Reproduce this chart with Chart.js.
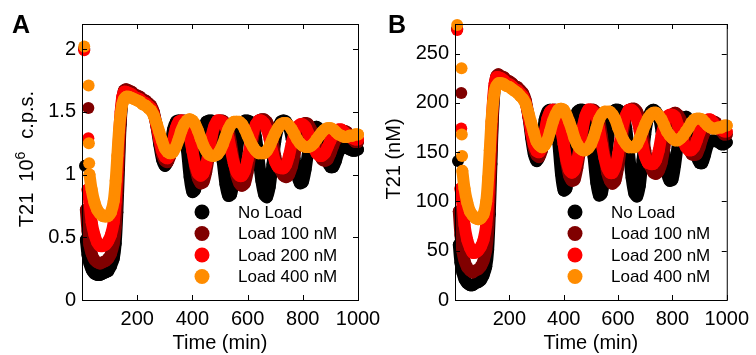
<!DOCTYPE html>
<html>
<head>
<meta charset="utf-8">
<script src="https://cdn.jsdelivr.net/npm/chart.js@4.4.1/dist/chart.umd.min.js"></script>
<style>
  html, body { margin: 0; padding: 0; background: #fff; }
  #wrap { position: relative; width: 756px; height: 355px; overflow: hidden; }
  #chartA { position: absolute; left: 0; top: 0; width: 400px; height: 355px; }
  #chartB { position: absolute; left: 378px; top: 0; width: 378px; height: 355px; }
</style>
</head>
<body>
<div id="wrap">
  <canvas id="chartA" width="400" height="355"></canvas>
  <canvas id="chartB" width="378" height="355"></canvas>
</div>
<script>
const seriesNames = ['No Load', 'Load 100 nM', 'Load 200 nM', 'Load 400 nM'];
const seriesColors = ['#000000', '#800000', '#ff0000', '#ff8c00'];

// first few isolated samples (drawn as dots only)
const onsetTime = [8, 11, 23, 24, 25, 26];
// main trace time points (min)
const time = [14, 20, 27, 35, 45, 55, 65, 75, 85, 95, 105, 115, 122, 128, 134, 140, 146, 152, 160,
  170, 180, 190, 200, 210, 220, 230, 240, 250, 260, 270, 280, 290, 300, 310, 320, 330, 340, 350, 360,
  370, 380, 390, 400, 410, 420, 430, 440, 450, 460, 470, 480, 490, 500, 510, 520, 530, 540, 550, 560,
  570, 580, 590, 600, 610, 620, 630, 640, 650, 660, 670, 680, 690, 700, 710, 720, 730, 740, 750, 760,
  770, 780, 790, 800, 810, 820, 830, 840, 850, 860, 870, 880, 890, 900, 910, 920, 930, 940, 950, 960,
  970, 980, 990, 1000];

// Panel A: T21 (10^6 c.p.s.)
const onsetCpsNoLoad = [2.00, 1.07, null, null, null, null];
const onsetCps100 = [2.00, null, 1.53, null, null, null];
const onsetCps200 = [1.99, null, 1.29, null, null, null];
const onsetCps400 = [2.02, null, null, 1.71, 1.25, 1.09];

const cpsNoLoad = [0.48, 0.36, 0.29, 0.24, 0.21, 0.20, 0.20, 0.21, 0.22, 0.23, 0.27, 0.33, 0.45, 0.70, 1.05, 1.40, 1.58, 1.65, 1.67,
  1.66, 1.65, 1.63, 1.62, 1.61, 1.59, 1.58, 1.56, 1.54, 1.49,
  1.38, 1.24, 1.12, 1.07, 1.10, 1.22, 1.36, 1.42, 1.43, 1.42,
  1.36, 1.20, 0.98, 0.86, 0.88, 1.02, 1.22, 1.36, 1.42, 1.43,
  1.43, 1.42, 1.38, 1.28, 1.10, 0.92, 0.83, 0.84, 0.96, 1.16,
  1.32, 1.40, 1.43, 1.43, 1.42, 1.39, 1.30, 1.13, 0.95, 0.84,
  0.82, 0.90, 1.08, 1.26, 1.37, 1.42, 1.43, 1.42, 1.38, 1.28,
  1.13, 0.99, 0.93, 0.94, 1.04, 1.19, 1.31, 1.37, 1.38, 1.36,
  1.30, 1.20, 1.10, 1.06, 1.06, 1.11, 1.18, 1.21, 1.22, 1.21,
  1.20, 1.19, 1.19, 1.20];
const cps100 = [0.72, 0.55, 0.44, 0.37, 0.32, 0.30, 0.29, 0.30, 0.31, 0.33, 0.37, 0.45, 0.58, 0.85, 1.15, 1.43, 1.60, 1.67, 1.68,
  1.67, 1.66, 1.64, 1.63, 1.62, 1.60, 1.59, 1.57, 1.55, 1.50,
  1.40, 1.27, 1.16, 1.11, 1.10, 1.15, 1.26, 1.37, 1.42, 1.43,
  1.43, 1.40, 1.32, 1.19, 1.06, 0.97, 0.93, 0.94, 1.02, 1.15,
  1.29, 1.38, 1.42, 1.43, 1.43, 1.41, 1.36, 1.25, 1.11, 0.99,
  0.93, 0.91, 0.93, 1.02, 1.16, 1.30, 1.39, 1.43, 1.44, 1.44,
  1.42, 1.37, 1.27, 1.15, 1.06, 1.03, 0.99, 0.98, 1.00, 1.06,
  1.16, 1.27, 1.35, 1.40, 1.41, 1.40, 1.36, 1.30, 1.22, 1.16,
  1.12, 1.11, 1.12, 1.17, 1.23, 1.28, 1.32, 1.34, 1.35, 1.34,
  1.31, 1.28, 1.26, 1.26];
const cps200 = [null, 0.88, 0.78, 0.62, 0.52, 0.46, 0.43, 0.43, 0.44, 0.47, 0.52, 0.62, 0.78, 1.02, 1.30, 1.50, 1.62, 1.66, 1.66,
  1.65, 1.64, 1.62, 1.61, 1.60, 1.58, 1.57, 1.55, 1.53, 1.48,
  1.39, 1.28, 1.19, 1.14, 1.13, 1.17, 1.27, 1.37, 1.42, 1.43,
  1.42, 1.38, 1.30, 1.19, 1.08, 1.01, 0.99, 1.01, 1.08, 1.19,
  1.31, 1.39, 1.43, 1.43, 1.42, 1.38, 1.30, 1.19, 1.09, 1.02,
  0.99, 0.99, 1.03, 1.12, 1.24, 1.34, 1.40, 1.43, 1.43, 1.41,
  1.36, 1.28, 1.18, 1.10, 1.06, 1.05, 1.05, 1.08, 1.15, 1.25,
  1.33, 1.38, 1.40, 1.40, 1.38, 1.33, 1.27, 1.21, 1.17, 1.15,
  1.15, 1.17, 1.22, 1.27, 1.32, 1.35, 1.36, 1.36, 1.34, 1.32,
  1.30, 1.29, 1.28, 1.28];
const cps400 = [null, null, 1.00, 0.88, 0.78, 0.72, 0.69, 0.67, 0.665, 0.67, 0.70, 0.79, 0.95, 1.15, 1.35, 1.48, 1.56, 1.60, 1.62,
  1.62, 1.61, 1.60, 1.59, 1.58, 1.56, 1.55, 1.53, 1.51, 1.47,
  1.41, 1.34, 1.27, 1.21, 1.18, 1.17, 1.18, 1.22, 1.28, 1.35,
  1.40, 1.43, 1.44, 1.43, 1.40, 1.35, 1.29, 1.23, 1.19, 1.16,
  1.15, 1.15, 1.16, 1.19, 1.24, 1.30, 1.36, 1.40, 1.42, 1.42,
  1.42, 1.40, 1.36, 1.31, 1.26, 1.22, 1.19, 1.17, 1.17, 1.17,
  1.19, 1.23, 1.28, 1.33, 1.37, 1.40, 1.41, 1.41, 1.39, 1.36,
  1.32, 1.28, 1.25, 1.23, 1.22, 1.22, 1.23, 1.25, 1.28, 1.31,
  1.34, 1.36, 1.37, 1.37, 1.36, 1.34, 1.32, 1.31, 1.30, 1.30,
  1.31, 1.31, 1.32, 1.32];

// Panel B: T21 (nM)
const onsetNmNoLoad = [275, 141, null, null, null, null];
const onsetNm100 = [275, null, 210, null, null, null];
const onsetNm200 = [274, null, 174, null, null, null];
const onsetNm400 = [279, null, null, 235, 168, 146];

const nmNoLoad = [56, 38, 28, 21, 17, 15, 15, 17, 18, 20, 25, 34, 51, 87, 138, 188, 214, 225, 227,
  226, 225, 222, 220, 219, 216, 214, 212, 209, 201,
  186, 165, 148, 141, 145, 162, 183, 191, 193, 191,
  183, 160, 128, 111, 113, 134, 162, 183, 191, 193,
  193, 191, 186, 171, 145, 119, 106, 108, 125, 154,
  177, 188, 193, 193, 191, 187, 174, 150, 124, 108,
  105, 116, 142, 168, 184, 191, 193, 191, 186, 171,
  150, 129, 121, 122, 137, 158, 175, 184, 186, 183,
  174, 160, 145, 139, 139, 147, 157, 161, 162, 161,
  160, 158, 158, 160];
const nm100 = [90, 66, 50, 40, 33, 30, 28, 30, 31, 34, 40, 51, 70, 109, 152, 193, 217, 227, 229,
  227, 226, 223, 222, 220, 217, 216, 213, 210, 203,
  188, 170, 154, 147, 145, 152, 168, 184, 191, 193,
  193, 188, 177, 158, 139, 126, 121, 122, 134, 152,
  173, 186, 191, 193, 193, 190, 183, 167, 147, 129,
  121, 118, 121, 134, 154, 174, 187, 193, 194, 194,
  191, 184, 170, 152, 139, 135, 129, 128, 131, 139,
  154, 170, 181, 188, 190, 188, 183, 174, 162, 154,
  148, 147, 148, 155, 164, 171, 177, 180, 181, 180,
  175, 171, 168, 168];
const nm200 = [null, 113, 99, 76, 61, 53, 48, 48, 50, 54, 61, 76, 99, 134, 174, 203, 220, 226, 226,
  225, 223, 220, 219, 217, 214, 213, 210, 207, 200,
  187, 171, 158, 151, 150, 155, 170, 184, 191, 193,
  191, 186, 174, 158, 142, 132, 129, 132, 142, 158,
  175, 187, 193, 193, 191, 186, 174, 158, 144, 134,
  129, 129, 135, 148, 165, 180, 188, 193, 193, 190,
  183, 171, 157, 145, 139, 138, 138, 142, 152, 167,
  178, 186, 188, 188, 186, 178, 170, 161, 155, 152,
  152, 155, 162, 170, 177, 181, 183, 183, 180, 177,
  174, 173, 171, 171];
const nm400 = [null, null, 131, 113, 99, 90, 86, 83, 82, 83, 87, 100, 124, 152, 181, 200, 212, 217, 220,
  220, 219, 217, 216, 214, 212, 210, 207, 204, 199,
  190, 180, 170, 161, 157, 155, 157, 162, 171, 181,
  188, 193, 194, 193, 188, 181, 173, 164, 158, 154,
  152, 152, 154, 158, 165, 174, 183, 188, 191, 191,
  191, 188, 183, 175, 168, 162, 158, 155, 155, 155,
  158, 164, 171, 178, 184, 188, 190, 190, 187, 183,
  177, 171, 167, 164, 162, 162, 164, 167, 171, 175,
  180, 183, 184, 184, 183, 180, 177, 175, 174, 174,
  175, 175, 177, 177];

const xTicks = [0, 200, 400, 600, 800, 1000];
const cpsTicks = [0, 0.5, 1, 1.5, 2];
const nmTicks = [0, 50, 100, 150, 200, 250];

Chart.defaults.font.family = "'Liberation Sans', Arial, sans-serif";
Chart.defaults.color = '#000';

function buildDatasets(onsets, traces) {
  return traces.map((vals, i) => {
    const pts = onsetTime.map((t, k) => ({ x: t, y: onsets[i][k] }))
      .concat(time.map((t, k) => ({ x: t, y: vals[k] })));
    return {
      label: seriesNames[i],
      data: pts,
      borderColor: seriesColors[i],
      backgroundColor: seriesColors[i],
      pointBackgroundColor: seriesColors[i],
      borderWidth: 12,
      borderCapStyle: 'round',
      borderJoinStyle: 'round',
      pointRadius: 6,
      pointBorderWidth: 0,
      pointHoverRadius: 0,
      tension: 0.3,
      spanGaps: false,
      clip: false,
      order: 4 - i, // orange drawn last (on top)
      segment: {
        borderColor: c => c.p0DataIndex < onsetTime.length ? 'rgba(0,0,0,0)' : undefined
      }
    };
  });
}

// frame, inward ticks, legend, axis titles, panel letter
const decor = {
  id: 'decor',
  afterDraw(chart, args, o) {
    const { ctx, chartArea: a, scales: { x, y } } = chart;
    const font = "'Liberation Sans', Arial, sans-serif";
    ctx.save();
    ctx.strokeStyle = '#000';
    ctx.lineWidth = 1;
    ctx.strokeRect(a.left + 0.5, a.top + 0.5, a.width, a.height);
    ctx.beginPath();
    x.ticks.forEach(t => {
      const px = Math.round(x.getPixelForValue(t.value)) + 0.5;
      ctx.moveTo(px, a.bottom); ctx.lineTo(px, a.bottom - 5);
      ctx.moveTo(px, a.top); ctx.lineTo(px, a.top + 5);
    });
    y.ticks.forEach(t => {
      const py = Math.round(y.getPixelForValue(t.value)) + 0.5;
      ctx.moveTo(a.left, py); ctx.lineTo(a.left + 5, py);
      ctx.moveTo(a.right, py); ctx.lineTo(a.right - 5, py);
    });
    ctx.stroke();

    // legend inside the plot, lower right
    ctx.font = '17px ' + font;
    ctx.textBaseline = 'middle';
    ctx.textAlign = 'left';
    seriesNames.forEach((name, i) => {
      const ry = a.bottom - 88 + i * 21.5;
      ctx.fillStyle = seriesColors[i];
      ctx.beginPath();
      ctx.arc(a.left + 120, ry, 7.5, 0, Math.PI * 2);
      ctx.fill();
      ctx.fillStyle = '#000';
      ctx.fillText(name, a.left + 156, ry + 1);
    });

    // x title
    ctx.font = '20px ' + font;
    ctx.textAlign = 'center';
    ctx.textBaseline = 'alphabetic';
    ctx.fillText('Time (min)', (a.left + a.right) / 2, 349);

    // y title (rotated), parts allow a superscript
    ctx.save();
    ctx.translate(o.titleX, (a.top + a.bottom) / 2 - 3);
    ctx.rotate(-Math.PI / 2);
    ctx.textAlign = 'left';
    const parts = o.yTitle;
    let total = 0;
    parts.forEach(p => {
      ctx.font = p.size + 'px ' + font;
      p.w = ctx.measureText(p.text).width;
      total += p.w + (p.gap || 0);
    });
    let cx = -total / 2;
    parts.forEach(p => {
      ctx.font = p.size + 'px ' + font;
      ctx.fillText(p.text, cx, -(p.rise || 0));
      cx += p.w + (p.gap || 0);
    });
    ctx.restore();

    // panel letter
    ctx.font = 'bold 25px ' + font;
    ctx.textAlign = 'left';
    ctx.fillText(o.letter, o.letterX, 33);
    ctx.restore();
  }
};

function makeChart(id, opts) {
  return new Chart(document.getElementById(id), {
    type: 'line',
    data: { datasets: buildDatasets(opts.onsets, opts.traces) },
    plugins: [decor],
    options: {
      responsive: false,
      animation: false,
      devicePixelRatio: 1,
      events: [],
      layout: { padding: { left: 0, right: opts.padRight, top: 24, bottom: 0 } },
      plugins: {
        legend: { display: false },
        tooltip: { enabled: false },
        decor: { letter: opts.letter, letterX: opts.letterX, titleX: opts.titleX, yTitle: opts.yTitle }
      },
      scales: {
        x: {
          type: 'linear',
          min: 0,
          max: 1000,
          afterFit: s => { s.height = 55; },
          afterBuildTicks: s => { s.ticks = xTicks.map(v => ({ value: v })); },
          grid: { display: false, drawTicks: false },
          border: { display: false },
          ticks: {
            padding: 7,
            font: { size: 20 },
            color: '#000',
            maxRotation: 0,
            autoSkip: false,
            callback: v => v === 0 ? '' : String(v)
          }
        },
        y: {
          type: 'linear',
          min: 0,
          max: opts.yMax,
          afterFit: s => { s.width = opts.yWidth; },
          afterBuildTicks: s => { s.ticks = opts.yTicks.map(v => ({ value: v })); },
          grid: { display: false, drawTicks: false },
          border: { display: false },
          ticks: {
            padding: 6,
            font: { size: 20 },
            color: '#000',
            callback: v => String(v)
          }
        }
      }
    }
  });
}

makeChart('chartA', {
  onsets: [onsetCpsNoLoad, onsetCps100, onsetCps200, onsetCps400],
  traces: [cpsNoLoad, cps100, cps200, cps400],
  yMax: 2.2,
  yTicks: cpsTicks,
  yWidth: 82,
  padRight: 42,
  letter: 'A',
  letterX: 12,
  titleX: 33,
  yTitle: [
    { text: 'T21', size: 20, gap: 11 },
    { text: '10', size: 20, gap: 0 },
    { text: '6', size: 14, rise: 8, gap: 13 },
    { text: 'c.p.s.', size: 20 }
  ]
});

makeChart('chartB', {
  onsets: [onsetNmNoLoad, onsetNm100, onsetNm200, onsetNm400],
  traces: [nmNoLoad, nm100, nm200, nm400],
  yMax: 280,
  yTicks: nmTicks,
  yWidth: 77,
  padRight: 25,
  letter: 'B',
  letterX: 10,
  titleX: 22,
  yTitle: [
    { text: 'T21 (nM)', size: 20 }
  ]
});
</script>
</body>
</html>
